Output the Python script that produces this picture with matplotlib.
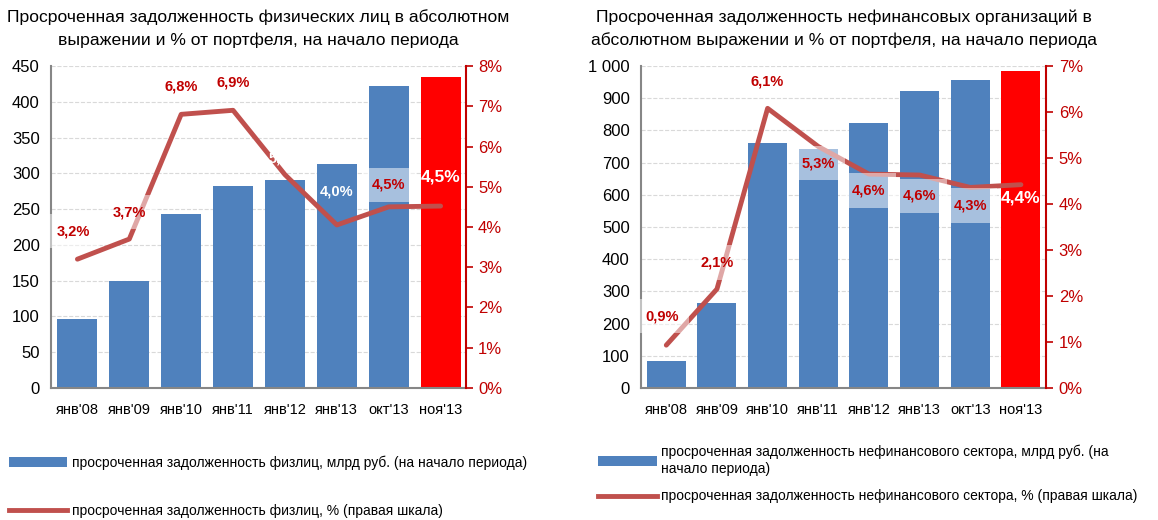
import matplotlib
matplotlib.use('Agg')
import matplotlib.pyplot as plt
from matplotlib.patches import Patch
from matplotlib.lines import Line2D
from matplotlib.ticker import FuncFormatter

plt.rcParams['font.family'] = ['Liberation Sans', 'DejaVu Sans']

# данные
periods = ["янв'08", "янв'09", "янв'10", "янв'11", "янв'12", "янв'13", "окт'13", "ноя'13"]
fiz_amount = [97, 149, 243, 282, 291, 313, 422, 435]
fiz_pct = [3.2, 3.7, 6.8, 6.9, 5.3, 4.05, 4.5, 4.52]
fiz_labels = ['3,2%', '3,7%', '6,8%', '6,9%', '5,3%', '4,0%', '4,5%', '4,5%']
corp_amount = [85, 265, 761, 743, 822, 924, 956, 985]
corp_pct = [0.93, 2.15, 6.08, 5.25, 4.65, 4.63, 4.36, 4.42]
corp_labels = ['0,9%', '2,1%', '6,1%', '5,3%', '4,6%', '4,6%', '4,3%', '4,4%']

BLUE = '#4f81bd'
RED = '#ff0000'
LINE = '#c0504d'
DARKRED = '#c00000'


def draw(fig, rect, amount, pct, labels, ymax, ystep, pmax, xlim,
         offsets, styles, title):
    ax = fig.add_axes(rect)
    x = list(range(len(periods)))
    colors = [BLUE] * (len(x) - 1) + [RED]
    ax.bar(x, amount, width=0.77, color=colors, zorder=2)
    ax.set_xlim(*xlim)
    ax.set_ylim(0, ymax)
    ax.set_yticks(range(0, ymax + 1, ystep))
    ax.yaxis.set_major_formatter(FuncFormatter(
        lambda v, p: f'{int(v):,}'.replace(',', ' ')))
    ax.set_xticks(x)
    ax.set_xticklabels(periods, fontsize=10.5)
    ax.tick_params(axis='y', length=0, labelsize=12, pad=8)
    ax.tick_params(axis='x', length=0, pad=11)
    ax.grid(axis='y', color='#d9d9d9', linestyle='--', linewidth=0.8, zorder=0)
    for s in ['top', 'right']:
        ax.spines[s].set_visible(False)
    for s in ['left', 'bottom']:
        ax.spines[s].set_color('#868686')
        ax.spines[s].set_linewidth(1.5)

    ax2 = ax.twinx()
    ax2.plot(x, pct, color=LINE, linewidth=3.5, zorder=3,
             solid_capstyle='round')
    ax2.set_ylim(0, pmax)
    ax2.set_yticks(range(0, pmax + 1))
    ax2.yaxis.set_major_formatter(FuncFormatter(lambda v, p: f'{int(v)}%'))
    ax2.tick_params(axis='y', colors=DARKRED, labelsize=12, length=5,
                    width=1.2, pad=4)
    for s in ['top', 'left', 'bottom']:
        ax2.spines[s].set_visible(False)
    ax2.spines['right'].set_color(DARKRED)
    ax2.spines['right'].set_linewidth(1.5)

    for i, (lab, dx, dy, st) in enumerate(zip(labels, *zip(*offsets), styles)):
        kw = dict(ha='center', va='center', fontweight='bold', zorder=5)
        if st == 'box':
            kw.update(color=DARKRED, fontsize=10.5,
                      bbox=dict(boxstyle='square,pad=0.7',
                                facecolor=(1, 1, 1, 0.5), edgecolor='none'))
        elif st == 'plain':
            kw.update(color=DARKRED, fontsize=10.5)
        elif st == 'white':
            kw.update(color='white', fontsize=10.5)
        else:
            kw.update(color='white', fontsize=12.5)
        ax2.text(i + dx, pct[i] + dy, lab, **kw)

    fig.text(rect[0] + rect[2] / 2, 0.982, title, ha='center',
             va='top', fontsize=12.6, linespacing=1.55)
    return ax


fig = plt.figure(figsize=(11.58, 5.2), dpi=100)

draw(fig, [0.044, 0.254, 0.358, 0.619], fiz_amount, fiz_pct, fiz_labels,
     450, 50, 8, (-0.51, 7.48),
     [(-0.08, 0.7), (0, 0.67), (0, 0.69), (0, 0.69), (0, 0.4), (0, 0.83),
      (0, 0.55), (0, 0.73)],
     ['box', 'box', 'plain', 'plain', 'white', 'white', 'box', 'big'],
     'Просроченная задолженность физических лиц в абсолютном\n'
     'выражении и % от портфеля, на начало периода')

draw(fig, [0.5535, 0.254, 0.350, 0.619], corp_amount, corp_pct, corp_labels,
     1000, 100, 7, (-0.5, 7.5),
     [(-0.08, 0.63), (0, 0.58), (0, 0.59), (0, -0.36), (0, -0.36),
      (0, -0.45), (0, -0.39), (0, -0.29)],
     ['box', 'box', 'plain', 'box', 'box', 'box', 'box', 'big'],
     'Просроченная задолженность нефинансовых организаций в\n'
     'абсолютном выражении и % от портфеля, на начало периода')

h_bar = Patch(facecolor=BLUE)
h_line = Line2D([], [], color=LINE, linewidth=3.5)

fig.legend([h_bar, h_line],
           ['просроченная задолженность физлиц, млрд руб. (на начало периода)',
            'просроченная задолженность физлиц, % (правая шкала)'],
           loc='upper left', bbox_to_anchor=(0.003, 0.135), frameon=False,
           fontsize=10, labelspacing=2.45, handlelength=4.2,
           handletextpad=0.3, borderaxespad=0)

fig.legend([h_bar, h_line],
           ['просроченная задолженность нефинансового сектора, млрд руб. (на\n'
            'начало периода)',
            'просроченная задолженность нефинансового сектора, % (правая шкала)'],
           loc='upper left', bbox_to_anchor=(0.512, 0.155), frameon=False,
           fontsize=10, labelspacing=1.0, handlelength=4.2,
           handletextpad=0.3, borderaxespad=0)

fig.savefig('out.png', dpi=100)
